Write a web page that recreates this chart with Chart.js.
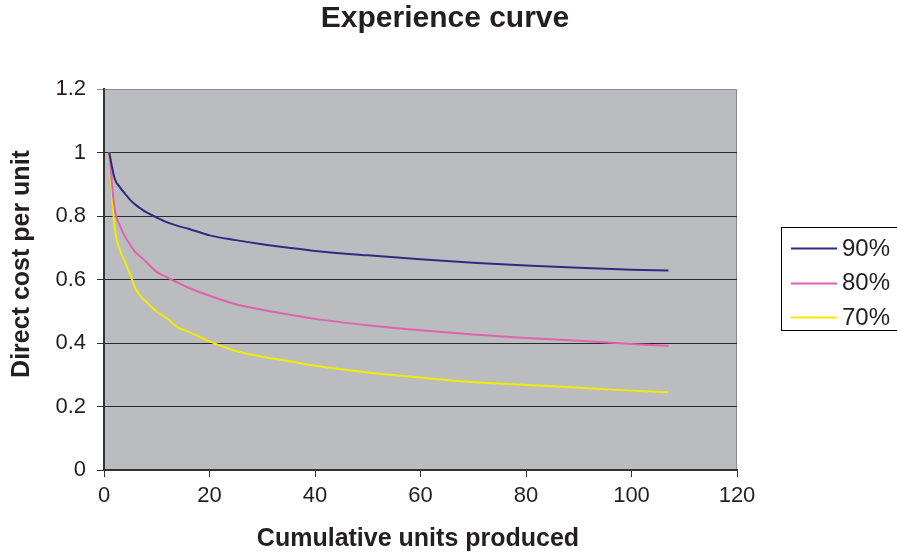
<!DOCTYPE html>
<html>
<head>
<meta charset="utf-8">
<title>Experience curve</title>
<script src="https://cdn.jsdelivr.net/npm/chart.js@4.4.1/dist/chart.umd.min.js"></script>
<style>
  html, body { margin: 0; padding: 0; background: #ffffff; }
  #wrap { width: 897px; height: 553px; }
</style>
</head>
<body>
<div id="wrap"><canvas id="chart" width="897" height="553"></canvas></div>
<script>
// Cumulative units produced (x) and direct cost per unit for each learning rate
const units   = [1, 2, 3, 4, 5, 6, 7, 8, 10, 12, 14, 16, 20, 25, 30, 35, 40, 50, 60, 70, 80, 90, 100, 107];
const cost90  = [1.000, 0.919, 0.891, 0.870, 0.850, 0.835, 0.823, 0.812, 0.795, 0.780, 0.769, 0.760, 0.739, 0.724, 0.711, 0.700, 0.690, 0.676, 0.664, 0.653, 0.644, 0.637, 0.631, 0.628];
const cost80  = [1.000, 0.825, 0.770, 0.735, 0.708, 0.685, 0.671, 0.655, 0.624, 0.606, 0.590, 0.574, 0.549, 0.522, 0.505, 0.490, 0.476, 0.456, 0.440, 0.427, 0.416, 0.407, 0.397, 0.391];
const cost70  = [1.000, 0.768, 0.693, 0.655, 0.614, 0.570, 0.546, 0.530, 0.499, 0.477, 0.449, 0.436, 0.405, 0.375, 0.357, 0.343, 0.328, 0.307, 0.291, 0.277, 0.268, 0.259, 0.250, 0.245];
const seriesNames = ['90%', '80%', '70%'];
const seriesColors = ['#2c2c80', '#de62ae', '#f0ec00'];

const chartTitle = 'Experience curve';
const xTitle = 'Cumulative units produced';
const yTitle = 'Direct cost per unit';

const FONT = '"Liberation Sans", Arial, Helvetica, sans-serif';
const TEXT = '#231f20';

const toPoints = (vals) => units.map((u, i) => ({ x: u, y: vals[i] }));

// Plot-area fill, border, titles and the boxed legend
const decor = {
  id: 'decor',
  beforeDraw(chart) {
    const { ctx, chartArea: a } = chart;
    ctx.save();
    ctx.fillStyle = '#ffffff';
    ctx.fillRect(0, 0, chart.width, chart.height);
    ctx.fillStyle = '#bbbcc0';
    ctx.fillRect(a.left, a.top, a.right - a.left, a.bottom - a.top);
    ctx.strokeStyle = '#8a8a8c';
    ctx.lineWidth = 1;
    ctx.strokeRect(a.left + 0.5, a.top + 0.5, a.right - a.left - 1, a.bottom - a.top - 1);
    ctx.restore();
  },
  afterDraw(chart) {
    const { ctx } = chart;
    ctx.save();
    ctx.fillStyle = TEXT;
    ctx.textAlign = 'center';
    ctx.textBaseline = 'middle';
    ctx.font = 'bold 30px ' + FONT;
    ctx.fillText(chartTitle, 445, 19);
    ctx.font = 'bold 25px ' + FONT;
    ctx.fillText(xTitle, 418, 539);
    ctx.translate(22, 264);
    ctx.rotate(-Math.PI / 2);
    ctx.fillText(yTitle, 0, 0);
    ctx.restore();

    // legend
    ctx.save();
    ctx.fillStyle = '#ffffff';
    ctx.fillRect(781, 227, 140, 103);
    ctx.strokeStyle = '#000000';
    ctx.lineWidth = 1;
    ctx.strokeRect(781.5, 227.5, 140, 103);
    ctx.font = '24px ' + FONT;
    ctx.textAlign = 'left';
    ctx.textBaseline = 'middle';
    chart.data.datasets.forEach((ds, i) => {
      const y = 248 + i * 34.7;
      ctx.strokeStyle = ds.borderColor;
      ctx.lineWidth = 2;
      ctx.beginPath();
      ctx.moveTo(791, Math.round(y) + 0.5);
      ctx.lineTo(837, Math.round(y) + 0.5);
      ctx.stroke();
      ctx.fillStyle = TEXT;
      ctx.fillText(ds.label, 842, y + 1);
    });
    ctx.restore();
  }
};

new Chart(document.getElementById('chart'), {
  type: 'line',
  data: {
    datasets: [
      { label: seriesNames[0], data: toPoints(cost90), borderColor: seriesColors[0] },
      { label: seriesNames[1], data: toPoints(cost80), borderColor: seriesColors[1] },
      { label: seriesNames[2], data: toPoints(cost70), borderColor: seriesColors[2] }
    ]
  },
  options: {
    responsive: false,
    animation: false,
    events: [],
    layout: { padding: { top: 89, right: 160, left: 0, bottom: 0 } },
    elements: {
      line: { borderWidth: 2, cubicInterpolationMode: 'monotone', fill: false },
      point: { radius: 0 }
    },
    plugins: {
      legend: { display: false },
      title: { display: false },
      tooltip: { enabled: false }
    },
    scales: {
      x: {
        type: 'linear',
        min: 0,
        max: 120,
        ticks: { stepSize: 20, padding: 6, color: TEXT, font: { family: FONT, size: 22 } },
        grid: { drawOnChartArea: false, drawTicks: true, tickLength: 7, color: '#333333', lineWidth: 1 },
        border: { display: true, color: '#333333', width: 2 },
        afterFit(scale) { scale.height = 83; }
      },
      y: {
        type: 'linear',
        min: 0,
        max: 1.2,
        ticks: {
          stepSize: 0.2, padding: 11, color: TEXT, font: { family: FONT, size: 22 },
          callback: (v) => String(Number(v.toFixed(2)))
        },
        grid: {
          drawTicks: true, tickLength: 7, lineWidth: 1,
          color: (c) => (c.tick && Math.abs(c.tick.value - 1.2) < 1e-6) ? '#8a8a8c' : '#2a2a2a'
        },
        border: { display: true, color: '#333333', width: 2 },
        afterFit(scale) { scale.width = 104; }
      }
    }
  },
  plugins: [decor]
});
</script>
</body>
</html>
